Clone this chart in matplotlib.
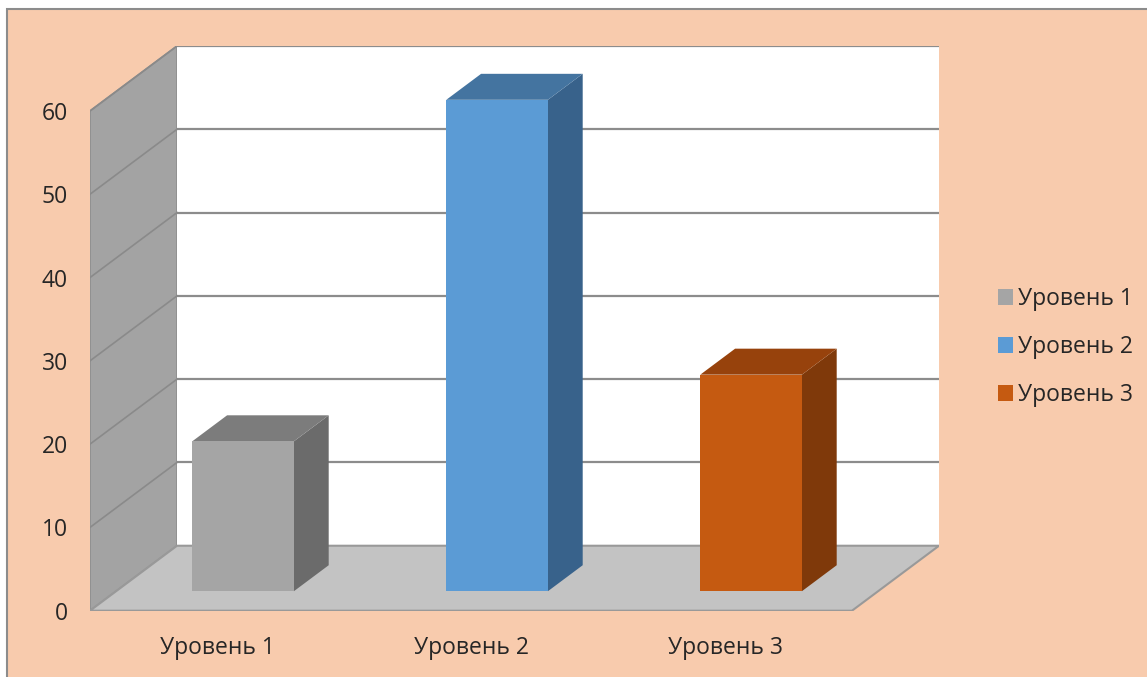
import numpy as np
import matplotlib
matplotlib.use("Agg")
import matplotlib.pyplot as plt
from matplotlib.patches import Polygon, Rectangle, Patch

# --- datos ---
categories = ["Уровень 1", "Уровень 2", "Уровень 3"]
values = [18, 59, 26]
front_colors = ["#A5A5A5", "#5B9BD5", "#C55A11"]
top_colors = ["#7C7C7C", "#4474A0", "#97420C"]
side_colors = ["#6B6B6B", "#38628B", "#7F390A"]
yticks = [0, 10, 20, 30, 40, 50, 60]

plt.rcParams['font.family'] = ['Open Sans', 'DejaVu Sans']

# proyeccion oblicua tipo Excel 3D
DX = 0.3425   # desplazamiento horizontal de toda la profundidad (unidades de categoria)
DY = 7.8      # desplazamiento vertical de toda la profundidad (unidades de valor)
BAR_W = 0.4
D0, D1 = 0.3, 0.7
YMAX = yticks[-1]
n = len(categories)


def proj(x, z, d):
    return (x + d * DX, z + d * DY)


W, H = 1147, 677
fig = plt.figure(figsize=(W / 100, H / 100), dpi=100, facecolor="white")

# fondo durazno con borde gris
fig.patches.append(Rectangle((7 / W, -0.1), 1.2, 1 - 9 / H + 0.1, transform=fig.transFigure,
                             facecolor="#F8CBAD", edgecolor="#8C8C8C", lw=1.5, zorder=-10))

ax = fig.add_axes([90 / W, 1 - 610.7 / H, 849 / W, (610.7 - 46) / H])
ax.set_xlim(-0.5, n - 0.5 + DX)
ax.set_ylim(0, YMAX + DY)
ax.patch.set_alpha(0)
for s in ax.spines.values():
    s.set_visible(False)

x0, x1 = -0.5, n - 0.5
# pared izquierda
ax.add_patch(Polygon([proj(x0, 0, 0), proj(x0, 0, 1), proj(x0, YMAX, 1), proj(x0, YMAX, 0)],
                     closed=True, facecolor="#A3A3A3", edgecolor="#8E8E8E", lw=1.2, zorder=1))
# pared del fondo
ax.add_patch(Polygon([proj(x0, 0, 1), proj(x1, 0, 1), proj(x1, YMAX, 1), proj(x0, YMAX, 1)],
                     closed=True, facecolor="white", edgecolor="none", zorder=1))
# piso
ax.add_patch(Polygon([proj(x0, 0, 0), proj(x1, 0, 0), proj(x1, 0, 1), proj(x0, 0, 1)],
                     closed=True, facecolor="#C3C3C3", edgecolor="#999999", lw=1.5, zorder=2))

# lineas de cuadricula
for v in yticks[1:]:
    xa, ya = proj(x0, v, 1)
    xb, yb = proj(x1, v, 1)
    ax.plot([xa, xb], [ya, yb], color="#8C8C8C", lw=1.6, zorder=1.5, solid_capstyle="butt")
    xc, yc = proj(x0, v, 0)
    ax.plot([xc, xa], [yc, ya], color="#8A8A8A", lw=1.2, zorder=1.5)

# barras
for i, v in enumerate(values):
    l, r = i - BAR_W / 2, i + BAR_W / 2
    side = [proj(r, 0, D0), proj(r, 0, D1), proj(r, v, D1), proj(r, v, D0)]
    top = [proj(l, v, D0), proj(r, v, D0), proj(r, v, D1), proj(l, v, D1)]
    front = [proj(l, 0, D0), proj(r, 0, D0), proj(r, v, D0), proj(l, v, D0)]
    ax.add_patch(Polygon(side, closed=True, facecolor=side_colors[i], edgecolor="none", zorder=3))
    ax.add_patch(Polygon(top, closed=True, facecolor=top_colors[i], edgecolor="none", zorder=3))
    ax.add_patch(Polygon(front, closed=True, facecolor=front_colors[i], edgecolor="none", zorder=4))

# ejes
ax.set_yticks(yticks)
ax.set_xticks(range(n))
ax.set_xticklabels(categories)
ax.tick_params(axis="y", length=0, pad=16, labelsize=16.5, labelcolor="#262626")
ax.tick_params(axis="x", length=0, pad=18, labelsize=16.5, labelcolor="#262626")

# leyenda
handles = [Patch(facecolor=c, edgecolor="none") for c in front_colors]
fig.legend(handles, categories, loc="center left", bbox_to_anchor=(977 / W, 1 - 347 / H),
           frameon=False, fontsize=16.5, handlelength=0.65, handleheight=0.65,
           handletextpad=0.25, labelspacing=1.05, labelcolor="#262626")

fig.savefig("out.png", dpi=100, facecolor=fig.get_facecolor())
